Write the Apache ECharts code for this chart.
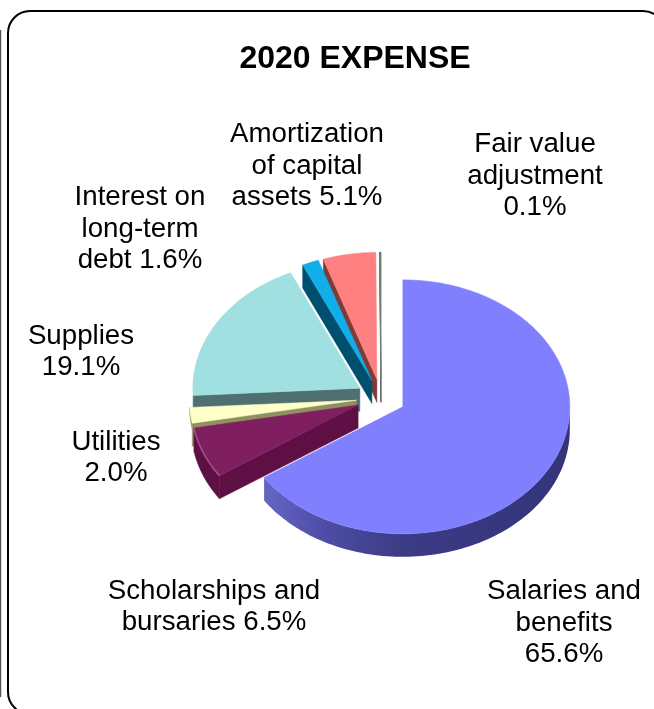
<!DOCTYPE html>
<html><head><meta charset="utf-8">
<style>html,body{margin:0;padding:0;background:#fff}#c{width:654px;height:709px}</style>
<script src="https://cdn.jsdelivr.net/npm/echarts@6/dist/echarts.min.js"></script>
</head><body><div id="c"></div>
<script>
const categories = ['Salaries and benefits','Scholarships and bursaries','Utilities','Supplies','Interest on long-term debt','Amortization of capital assets','Fair value adjustment'];
const shares = [65.6,6.5,2.0,19.1,1.6,5.1,0.1];
const labelLines = [
  ['Salaries and','benefits','65.6%'],
  ['Scholarships and','bursaries 6.5%'],
  ['Utilities','2.0%'],
  ['Supplies','19.1%'],
  ['Interest on','long-term','debt 1.6%'],
  ['Amortization','of capital','assets 5.1%'],
  ['Fair value','adjustment','0.1%']
];
const labelCenters = [[564,623],[214,607],[116,458],[81,352],[140,229],[307,166],[535,176]];
const topColors = ['#8080ff','#7f1f5f','#ffffc8','#a0e0e0','#12aeea','#ff8080','#6f7f78'];
const wallColors = ['#4a4a9c','#5e1045','#8f8f60','#4f6f70','#004f6f','#7f3a3a','#555555'];

const PIE = {cx:381, cy:398, rx:167, ry:127, depth:23, explode:0.148};
const total = shares.reduce((a,b)=>a+b,0);
const startAngles = []; let acc = 0;
shares.forEach(v=>{ startAngles.push(acc/total*360); acc+=v; });
const rad = d=>d*Math.PI/180;

function rimPoints(ax,ay,a0,a1,dy){
  const pts=[]; const n=Math.max(2,Math.ceil((a1-a0)/1.5));
  for(let i=0;i<=n;i++){
    const a=rad(a0+(a1-a0)*i/n);
    pts.push([ax+PIE.rx*Math.sin(a), ay-PIE.ry*Math.cos(a)+dy]);
  }
  return pts;
}
function renderItem(params, api){
  const i=params.dataIndex, v=api.value(0);
  const a0=startAngles[i], a1=a0+v/total*360, mid=rad((a0+a1)/2);
  const ax=PIE.cx+PIE.explode*PIE.rx*Math.sin(mid);
  const ay=PIE.cy-PIE.explode*PIE.ry*Math.cos(mid);
  const z=100-10*i;
  const d=PIE.depth, kids=[];
  const poly=(points,fill,z2)=>kids.push({type:'polygon',shape:{points},style:{fill,stroke:fill,lineWidth:i===6?1:0.5},z2});
  const wallEdge = (ang)=>{
    const e=rimPoints(ax,ay,ang,ang,0)[0];
    poly([[ax,ay],e,[e[0],e[1]+d],[ax,ay+d]],wallColors[i],z);
  };
  if(i===0){
    const top=rimPoints(ax,ay,90,a1,0), bot=rimPoints(ax,ay,90,a1,d).reverse();
    kids.push({type:'polygon',shape:{points:top.concat(bot)},
      style:{fill:new echarts.graphic.LinearGradient(0,0,1,0,[
        {offset:0,color:'#6565c4'},{offset:0.2,color:'#4d4da6'},{offset:0.45,color:'#3b3b86'},{offset:1,color:'#34347a'}])},z2:z});
  } else if(i===1){
    wallEdge(a0);
    const top=rimPoints(ax,ay,a0,a1,0), bot=rimPoints(ax,ay,a0,a1,d).reverse();
    poly(top.concat(bot),wallColors[i],z);
  } else if(i===2){
    wallEdge(a0);
    const top=rimPoints(ax,ay,a0,a1,0), bot=rimPoints(ax,ay,a0,a1,d*0.25).reverse();
    poly(top.concat(bot),wallColors[i],z);
  } else {
    wallEdge(a0);
  }
  poly([[ax,ay]].concat(rimPoints(ax,ay,a0,a1,0)),topColors[i],z+1);
  if(i===1){
    kids.push({type:'polyline',shape:{points:rimPoints(ax,ay,a0,a1,0)},style:{fill:'none',stroke:'#a8508c',lineWidth:1.5},z2:z+2});
  }
  return {type:'group',children:kids};
}
const textEls = labelLines.map((lines,i)=>({
  type:'text',x:labelCenters[i][0],y:labelCenters[i][1]-lines.length*31.5/2,
  style:{text:lines.join('\n'),align:'center',verticalAlign:'top',
    font:'27.7px "Liberation Sans", Arial, sans-serif',lineHeight:31.5,fill:'#000'}
}));
const chart=echarts.init(document.getElementById('c'),null,{renderer:'canvas'});
chart.setOption({
  animation:false,
  backgroundColor:'#fff',
  title:{text:'2020 EXPENSE',left:350,top:38,textAlign:'center',
    textStyle:{fontFamily:'"Liberation Sans", Arial, sans-serif',fontWeight:'bold',fontSize:32,color:'#000'}},
  graphic:{elements:[
    {type:'rect',shape:{x:8,y:11,width:657,height:703,r:22},style:{fill:'none',stroke:'#000',lineWidth:2},z:-1},
    {type:'line',shape:{x1:0.5,y1:30,x2:0.5,y2:697},style:{stroke:'#555',lineWidth:1.5},z:-1}
  ].concat(textEls)},
  series:[{type:'custom',coordinateSystem:'none',renderItem,
    data:shares.map((v,i)=>({name:categories[i],value:[v]}))}]
});
</script></body></html>
